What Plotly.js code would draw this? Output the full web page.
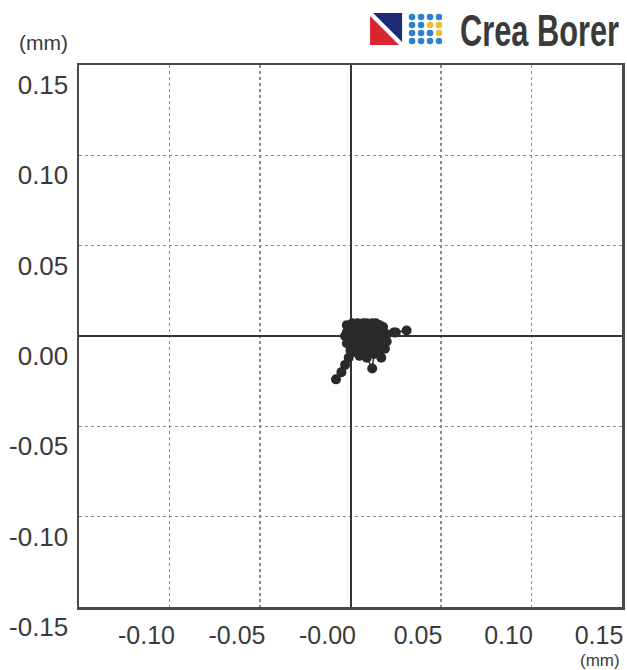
<!DOCTYPE html>
<html>
<head>
<meta charset="utf-8">
<script src="https://cdn.plot.ly/plotly-3.0.1.min.js"></script>
<style>html,body{margin:0;padding:0;background:#fff;}#chart{width:627px;height:670px;}</style>
</head>
<body>
<div id="chart"></div>
<script>
// Deviation trajectory (mm)
const xVals = [0.002, 0.006, 0.010, 0.004, 0.000, -0.002, 0.001, 0.005, 0.009, 0.013,
  0.016, 0.012, 0.007, 0.002, -0.001, -0.003, -0.002, 0.002, 0.006, 0.010,
  0.014, 0.018, 0.020, 0.025, 0.031, 0.024, 0.019, 0.015, 0.011, 0.007,
  0.003, 0.000, -0.001, -0.003, -0.005, -0.008, 0.001, 0.005, 0.009, 0.012,
  0.013, 0.017, 0.019, 0.020, 0.016, 0.012, 0.008, 0.004, 0.000, 0.003,
  0.007, 0.011, 0.014, 0.010, 0.006, 0.002, 0.005, 0.008, 0.012, 0.015,
  0.018, 0.014, 0.009, 0.005, 0.001, -0.002, 0.003, 0.007, 0.011, 0.008,
  0.004, 0.009, 0.013, 0.017, 0.006, 0.003, 0.010, 0.015];
const yVals = [0.001, 0.004, 0.006, 0.007, 0.005, 0.002, -0.002, -0.001, 0.001, 0.003,
  0.006, 0.007, 0.007, 0.006, 0.004, 0.000, -0.004, -0.006, -0.004, -0.002,
  0.000, 0.002, 0.001, 0.002, 0.003, 0.002, -0.001, -0.004, -0.006, -0.008,
  -0.009, -0.008, -0.012, -0.016, -0.020, -0.024, -0.009, -0.011, -0.012, -0.018,
  -0.010, -0.012, -0.007, -0.003, -0.002, 0.002, 0.004, 0.002, 0.000, -0.003,
  -0.005, -0.004, -0.007, -0.009, -0.007, -0.004, 0.001, -0.001, 0.005, 0.004,
  0.005, 0.007, 0.007, 0.006, 0.007, 0.006, 0.004, 0.002, 0.000, -0.003,
  -0.006, -0.010, -0.005, 0.000, -0.009, 0.000, 0.003, -0.009];

const xTickVals = [-0.10, -0.05, 0, 0.05, 0.10, 0.15];
const xTickText = ['-0.10', '-0.05', '-0.00', '0.05', '0.10', '0.15'];
const yTickVals = [-0.15, -0.10, -0.05, 0, 0.05, 0.10, 0.15];
const yTickText = ['-0.15', '-0.10', '-0.05', '0.00', '0.05', '0.10', '0.15'];
const unitLabel = '(mm)';
const brandName = 'Crea Borer';

const dark = '#333333';
const tickFont = {family: 'Liberation Sans, Arial, sans-serif', size: 26, color: '#3a3a3a'};
const xTickFont = {family: 'Liberation Sans, Arial, sans-serif', size: 25, color: '#3a3a3a'};

const trace = {
  x: xVals, y: yVals,
  type: 'scatter', mode: 'lines+markers',
  line: {color: '#2a2a2a', width: 1.5},
  marker: {color: '#2a2a2a', size: 10},
  hoverinfo: 'skip'
};

const axisCommon = {
  range: [-0.15, 0.15],
  showgrid: true, gridcolor: '#8a8a8a', gridwidth: 1.5, griddash: 'dot',
  zeroline: true, zerolinecolor: dark, zerolinewidth: 2,
  showline: true, mirror: true, linecolor: '#4a4a4a', linewidth: 2.5,
  ticks: '', tickfont: tickFont, fixedrange: true
};

const logoSvg = '<svg xmlns="http://www.w3.org/2000/svg" width="72" height="32" viewBox="0 0 72 32">' +
  '<polygon points="0,3 0,32 29,32" fill="#d8262c"/>' +
  '<polygon points="3,0 32,0 32,29" fill="#1d2a78"/>' +
  (function(){
    let s=''; const yel={'1,2':1,'1,3':1,'2,3':1};
    for(let r=0;r<4;r++) for(let c=0;c<4;c++){
      s+='<circle cx="'+(42+c*9)+'" cy="'+(4+r*8)+'" r="3.3" fill="'+(yel[r+','+c]?'#f0bf2e':'#2e80d2')+'"/>';
    }
    return s;
  })() + '</svg>';

const layout = {
  width: 627, height: 670,
  margin: {l: 79, r: 5, t: 65, b: 63},
  paper_bgcolor: '#ffffff', plot_bgcolor: '#ffffff',
  showlegend: false,
  xaxis: Object.assign({}, axisCommon, {
    tickvals: xTickVals, ticktext: xTickText, tickfont: xTickFont,
    ticklabelshift: -23, ticklabelstandoff: 4
  }),
  yaxis: Object.assign({}, axisCommon, {
    tickvals: yTickVals, ticktext: yTickText,
    ticklabelshift: 20, ticklabelstandoff: 3
  }),
  images: [{
    source: 'data:image/svg+xml;charset=utf-8,' + encodeURIComponent(logoSvg),
    xref: 'paper', yref: 'paper',
    x: 0.536, y: 1.096, sizex: 0.1326, sizey: 0.059,
    xanchor: 'left', yanchor: 'top', sizing: 'stretch', layer: 'above'
  }],
  annotations: [
    {text: unitLabel, xref: 'paper', yref: 'paper', x: -0.066, y: 1.0406,
     xanchor: 'center', yanchor: 'middle', showarrow: false,
     font: {family: 'Liberation Sans, Arial, sans-serif', size: 21, color: '#3a3a3a'}},
    {text: unitLabel, xref: 'paper', yref: 'paper', x: 0.9595, y: -0.0995,
     xanchor: 'center', yanchor: 'middle', showarrow: false,
     font: {family: 'Liberation Sans, Arial, sans-serif', size: 17, color: '#3a3a3a'}},
    {text: '<b>' + brandName + '</b>', xref: 'paper', yref: 'paper', x: 0.698, y: 1.064,
     xanchor: 'left', yanchor: 'middle', showarrow: false,
     font: {family: 'Liberation Sans, Arial, sans-serif', size: 44, color: '#3a3a3a'}}
  ]
};

Plotly.newPlot('chart', [trace], layout, {displayModeBar: false, staticPlot: true}).then(function(gd){
  // condense the brand wordmark horizontally (left edge kept in place)
  const targetWidth = 159;
  gd.querySelectorAll('.annotation-text').forEach(function(t){
    if (t.textContent === brandName) {
      const bb = t.getBBox();
      const s = targetWidth / bb.width;
      t.setAttribute('transform', 'translate(' + bb.x + ',0) scale(' + s + ',1) translate(' + (-bb.x) + ',0)');
    }
  });
});
</script>
</body>
</html>
